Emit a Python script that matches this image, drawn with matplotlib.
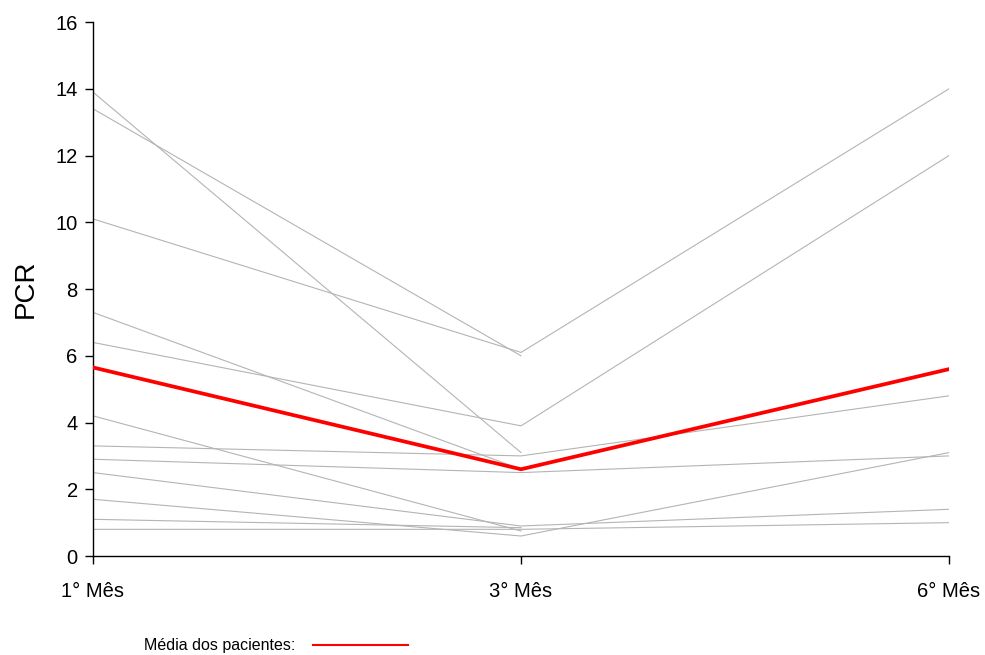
import matplotlib.pyplot as plt
from matplotlib.lines import Line2D

plt.rcParams["font.family"] = ["Liberation Sans", "DejaVu Sans"]

meses = ["1° Mês", "3° Mês", "6° Mês"]

# PCR de cada paciente (alguns sem medida no 6° mês)
pacientes = [
    [13.9, 3.1],
    [13.4, 6.0],
    [10.1, 6.1, 14.0],
    [7.3, 2.6],
    [6.4, 3.9, 12.0],
    [4.2, 0.75],
    [3.3, 3.0, 4.8],
    [2.9, 2.5, 3.0],
    [2.5, 0.9, 1.4],
    [1.7, 0.6, 3.1],
    [1.1, 0.85],
    [0.8, 0.8, 1.0],
]
media = [5.65, 2.6, 5.6]

fig = plt.figure(figsize=(9.85, 6.55), dpi=100)
ax = fig.add_axes([0.0944, 0.1511, 0.8691, 0.8153])

for p in pacientes:
    ax.plot(range(len(p)), p, color="#b4b4b4", lw=0.8, zorder=2)
ax.plot(range(3), media, color="#ff0000", lw=2.7, zorder=3, solid_joinstyle="miter")

ax.set_xlim(0, 2)
ax.set_ylim(0, 16)
ax.set_xticks(range(3))
ax.set_xticklabels(meses, fontsize=14.5)
ax.set_yticks(range(0, 17, 2))
ax.tick_params(axis="y", labelsize=14.5, length=6, width=1, pad=5)
ax.tick_params(axis="x", length=6, width=1, pad=13)
ax.set_ylabel("PCR", fontsize=20, labelpad=12)

for s in ["top", "right"]:
    ax.spines[s].set_visible(False)
for s in ["left", "bottom"]:
    ax.spines[s].set_linewidth(1)
    ax.spines[s].set_color("black")

handle = Line2D([], [], color="#ff0000", lw=1.5)
fig.legend([handle], ["Média dos pacientes:"], loc="center left",
           bbox_to_anchor=(0.132, 0.014), frameon=False, fontsize=11.5,
           markerfirst=False, handlelength=5.9, handletextpad=1.1)

fig.savefig("out.png", dpi=100)
